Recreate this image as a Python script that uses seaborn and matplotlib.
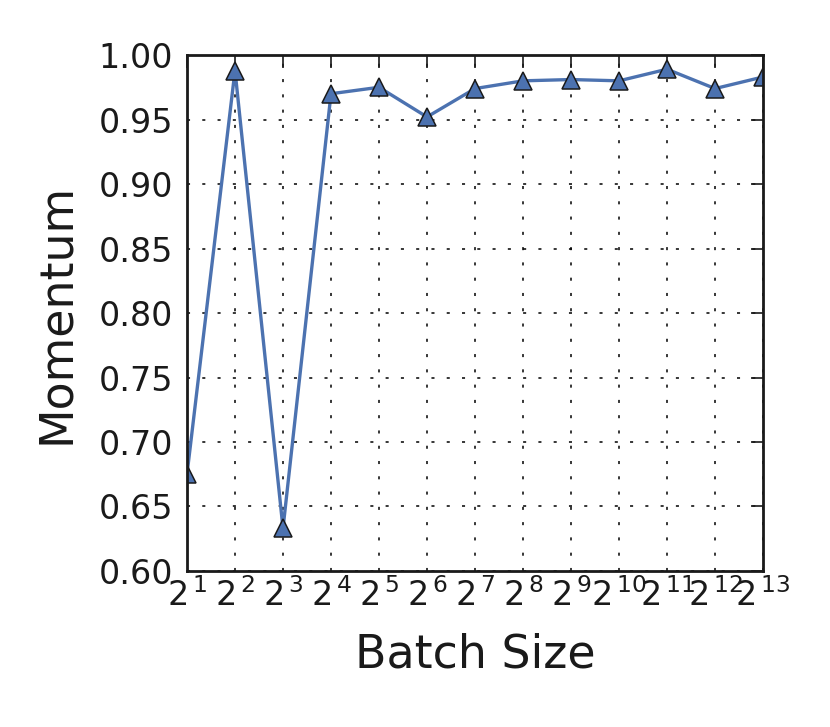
#!/usr/bin/env python3
"""Momentum vs batch size, log2 x axis."""

import numpy as np
import pandas as pd
import seaborn as sns
import matplotlib.pyplot as plt
from matplotlib.ticker import FixedLocator, FixedFormatter, MultipleLocator, FormatStrFormatter


EXPONENTS = [1, 2, 3, 4, 5, 6, 7, 8, 9, 10, 11, 12, 13]
MOMENTUM = [0.675, 0.988, 0.633, 0.970, 0.975, 0.952, 0.974,
            0.980, 0.981, 0.980, 0.989, 0.974, 0.983]


def main():
    sns.set_style("white")
    plt.rcParams["font.family"] = ["DejaVu Sans"]
    plt.rcParams["mathtext.fontset"] = "dejavusans"
    plt.rcParams["text.color"] = "#222222"

    df = pd.DataFrame({
        "batch": [2 ** e for e in EXPONENTS],
        "momentum": MOMENTUM,
    })

    fig = plt.figure(figsize=(8.3, 7.27), dpi=100)
    ax = fig.add_axes([0.2253, 0.2146, 0.6940, 0.7097])

    sns.lineplot(data=df, x="batch", y="momentum", ax=ax, color="#4C72B0",
                 linewidth=2.4, marker="^", markersize=12.5,
                 markerfacecolor="#4C72B0", markeredgecolor="#1a1a1a",
                 markeredgewidth=1.1)

    ax.set_xscale("log", base=2)
    ax.set_xlim(2, 8192)
    ax.set_ylim(0.60, 1.00)

    ticks = df["batch"].tolist()
    ax.xaxis.set_major_locator(FixedLocator(ticks))
    ax.xaxis.set_major_formatter(FixedFormatter([rf"$2^{{\,{e}}}$" for e in EXPONENTS]))
    ax.xaxis.set_minor_locator(FixedLocator([]))
    ax.yaxis.set_major_locator(MultipleLocator(0.05))
    ax.yaxis.set_major_formatter(FormatStrFormatter("%.2f"))

    ax.grid(True, color="black", linewidth=1.1, linestyle=(0, (2, 8)))
    ax.tick_params(direction="in", length=9, width=1.2, top=True, right=True,
                   labelsize=24, colors="#1a1a1a", pad=10)
    ax.tick_params(axis="x", pad=5)
    for s in ax.spines.values():
        s.set_visible(True)
        s.set_linewidth(2.0)
        s.set_color("#1a1a1a")

    ax.set_xlabel("Batch Size", fontsize=33, labelpad=14, color="#1a1a1a")
    ax.set_ylabel("Momentum", fontsize=33, labelpad=14, color="#1a1a1a")

    fig.savefig("out.png", dpi=100)


if __name__ == "__main__":
    main()
